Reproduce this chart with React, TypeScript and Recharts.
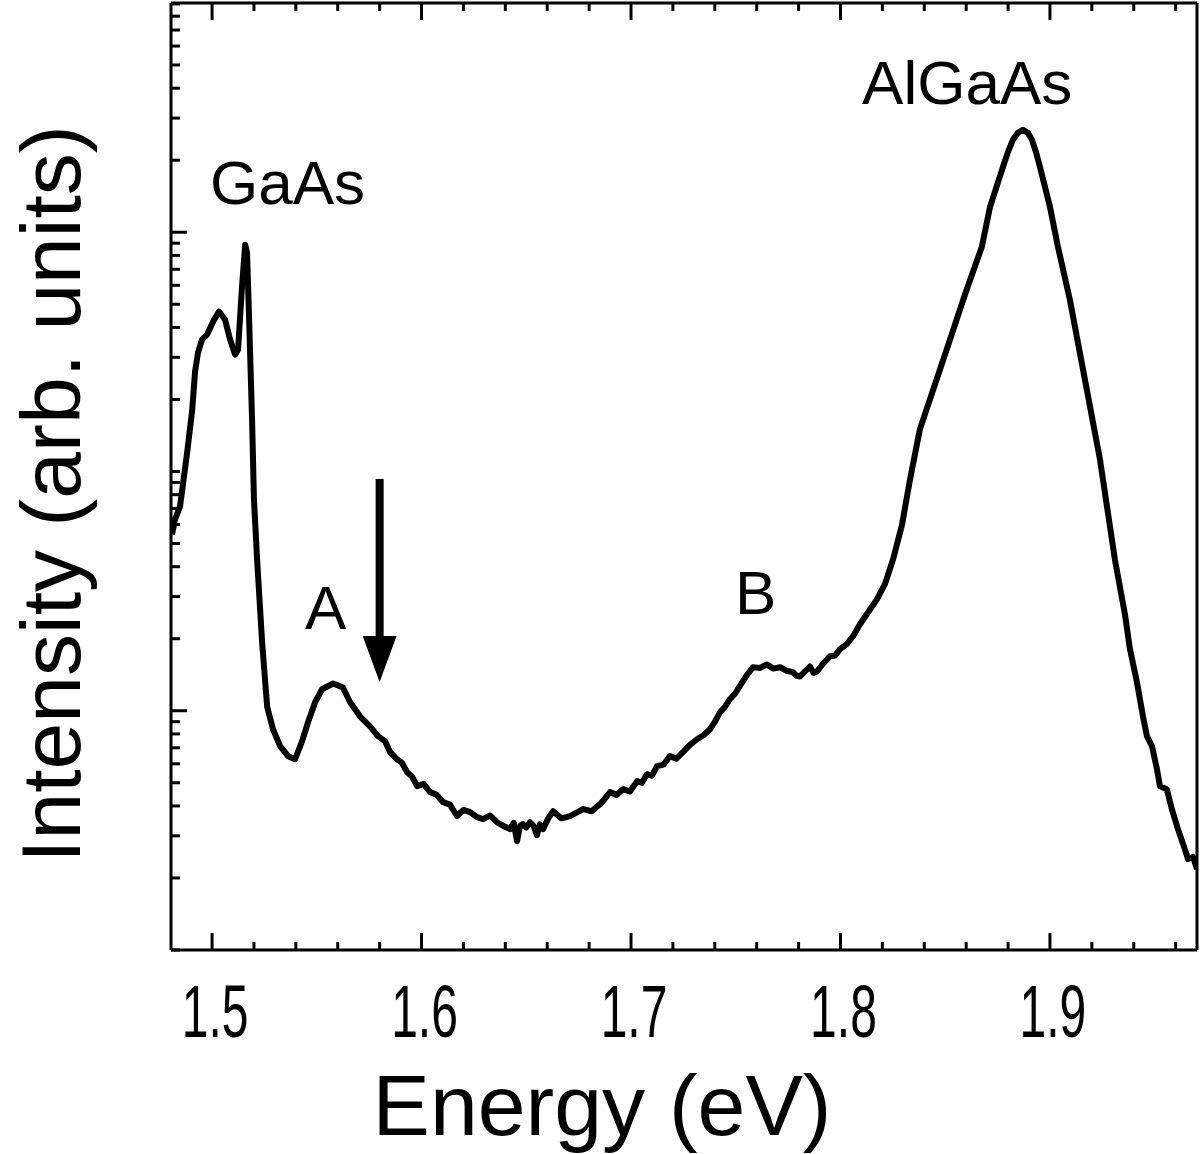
import React from 'react'
import { LineChart, Line, XAxis, YAxis, ReferenceDot, ReferenceLine } from 'recharts'

// photoluminescence spectrum (log intensity)
const energy = [
  1.4809, 1.4823, 1.4847, 1.4881, 1.4905, 1.4919, 1.4933, 1.4952, 1.4976, 1.5005,
  1.5033, 1.5062, 1.5086, 1.511, 1.5124, 1.5143, 1.5158, 1.5167, 1.5177, 1.5191,
  1.52, 1.5215, 1.5239, 1.5263, 1.5291, 1.5325, 1.5363, 1.5396, 1.543, 1.5458,
  1.5492, 1.5525, 1.5578, 1.5625, 1.5659, 1.5706, 1.5754, 1.5792, 1.5826, 1.585,
  1.5883, 1.5907, 1.5931, 1.5955, 1.5979, 1.601, 1.6041, 1.6072, 1.6103, 1.6136,
  1.6169, 1.62, 1.6232, 1.6263, 1.6294, 1.6327, 1.636, 1.6391, 1.6422, 1.644,
  1.6456, 1.647, 1.6484, 1.65, 1.6518, 1.6535, 1.6551, 1.6565, 1.658, 1.6605,
  1.6628, 1.6668, 1.6709, 1.674, 1.6771, 1.6812, 1.6852, 1.6876, 1.69, 1.6931,
  1.6962, 1.6995, 1.7029, 1.7052, 1.7076, 1.71, 1.7124, 1.7155, 1.7186, 1.7217,
  1.7248, 1.7281, 1.7315, 1.7346, 1.7377, 1.7401, 1.7425, 1.7449, 1.7473, 1.7497,
  1.752, 1.7551, 1.7582, 1.7615, 1.7649, 1.768, 1.7711, 1.7742, 1.7773, 1.779,
  1.7807, 1.783, 1.7854, 1.7871, 1.7888, 1.7919, 1.795, 1.7974, 1.7998, 1.803,
  1.806, 1.8093, 1.8141, 1.8174, 1.8212, 1.8251, 1.8294, 1.8332, 1.8379, 1.8451,
  1.8523, 1.8594, 1.8675, 1.8714, 1.8776, 1.88, 1.8823, 1.8847, 1.8871, 1.8895,
  1.8914, 1.8933, 1.8952, 1.9, 1.9038, 1.9095, 1.9167, 1.9239, 1.931, 1.9358,
  1.9382, 1.9415, 1.9444, 1.9463, 1.9487, 1.9511, 1.9525, 1.9558, 1.9582, 1.9611,
  1.9644, 1.9659, 1.9683, 1.9702,
]
const intensity = [
  54.6, 63.0, 71.4, 120, 180, 262, 314, 356, 373, 423,
  466, 431, 356, 308, 323, 592, 887, 821, 431, 165,
  76.4, 42.9, 19.3, 10.4, 8.37, 7.11, 6.46, 6.27, 7.46, 8.95,
  10.85, 12.3, 13.0, 12.5, 10.85, 9.48, 8.61, 7.83, 7.46, 6.71,
  6.27, 6.05, 5.54, 5.3, 4.84, 4.95, 4.57, 4.45, 4.15, 4.05,
  3.63, 3.85, 3.77, 3.6, 3.52, 3.65, 3.42, 3.3, 3.2, 3.4,
  2.85, 3.3, 3.36, 3.25, 3.42, 3.3, 3.02, 3.35, 3.2, 3.55,
  3.8, 3.55, 3.63, 3.75, 3.88, 3.8, 4.07, 4.3, 4.57, 4.45,
  4.7, 4.6, 5.08, 5.0, 5.43, 5.35, 5.87, 5.95, 6.46, 6.3,
  6.71, 7.2, 7.6, 7.9, 8.37, 9.0, 9.86, 10.4, 11.2, 11.8,
  12.7, 14.0, 15.2, 15.1, 15.6, 15.0, 15.2, 14.7, 14.5, 14.0,
  13.9, 14.6, 15.3, 14.4, 14.6, 15.8, 16.9, 17.0, 18.1, 19.0,
  20.5, 23.0, 26.5, 29.2, 33.8, 42.9, 60.1, 92.6, 150, 231,
  356, 548, 870, 1277, 1877, 2169, 2433, 2603, 2680, 2603,
  2433, 2169, 1877, 1277, 870, 523, 242, 112, 42.9, 25.3,
  18.1, 13.2, 9.48, 7.83, 7.11, 5.7, 4.84, 4.7, 3.88, 3.2,
  2.64, 2.4, 2.45, 2.18,
]

const xTicks = [
  1.5, 1.52, 1.54, 1.56, 1.58, 1.6, 1.62, 1.64, 1.66, 1.68, 1.7, 1.72, 1.74, 1.76,
  1.78, 1.8, 1.82, 1.84, 1.86, 1.88, 1.9, 1.92, 1.94, 1.96,
]
const xLabels = ['1.5', '1.6', '1.7', '1.8', '1.9']
const yTicks = [
  1, 2, 3, 4, 5, 6, 7, 8, 9, 10, 20, 30, 40, 50, 60, 70, 80, 90,
  100, 200, 300, 400, 500, 600, 700, 800, 900, 1000, 2000, 3000, 4000, 5000, 6000, 7000, 8000, 9000,
]
const yMajor = [10, 1000]

const peakLabels = [
  { text: 'GaAs', x: 1.499, y: 1315 },
  { text: 'AlGaAs', x: 1.8103, y: 3440 },
  { text: 'A', x: 1.5444, y: 21.9 },
  { text: 'B', x: 1.7496, y: 25.3 },
]
const arrow = { x: 1.58, top: 93, headStart: 20.3, tip: 13.2 }

const data = energy.map((e, i) => ({ e, v: intensity[i] }))
const font = 'Liberation Sans, Arial, sans-serif'
const xDomain = [1.4804, 1.9702]

const isMajorX = (v: number) => xLabels.some((l) => Math.abs(parseFloat(l) - v) < 1e-6)

const BottomTick = (props: any) => {
  const { x, y, payload } = props
  const major = isMajorX(payload.value)
  return (
    <g>
      <line x1={x} x2={x} y1={y} y2={y - (major ? 17 : 8)} stroke="#000" strokeWidth={3} />
      {major && (
        <text
          transform={`translate(${x + 3},${y + 87}) scale(0.64,1)`}
          textAnchor="middle"
          fontSize={75}
          fontFamily={font}
          fill="#000"
        >
          {payload.value.toFixed(1)}
        </text>
      )}
    </g>
  )
}

const TopTick = (props: any) => {
  const { x, y, payload } = props
  const major = isMajorX(payload.value)
  return <line x1={x} x2={x} y1={y} y2={y + (major ? 17 : 8)} stroke="#000" strokeWidth={3} />
}

const LeftTick = (props: any) => {
  const { x, y, payload } = props
  const major = yMajor.includes(payload.value)
  return <line x1={x} x2={x + (major ? 16 : 9)} y1={y} y2={y} stroke="#000" strokeWidth={3} />
}

const yLabel = () => (
  <text transform="translate(80,494) rotate(-90)" textAnchor="middle" fontSize={84} fontFamily={font} fill="#000">
    Intensity (arb. units)
  </text>
)

const xLabel = () => (
  <text x={602} y={1135} textAnchor="middle" fontSize={86} fontFamily={font} fill="#000">
    Energy (eV)
  </text>
)

export default function App() {
  return (
    <div style={{ position: 'absolute', left: 0, top: 0, background: '#fff' }}>
      <LineChart width={1200} height={1154} data={data} margin={{ top: 2, right: 2, bottom: 0, left: 0 }}>
        <XAxis
          xAxisId="b"
          dataKey="e"
          type="number"
          domain={xDomain}
          allowDataOverflow
          ticks={xTicks}
          interval={0}
          tickSize={0}
          tickMargin={0}
          tickLine={false}
          tick={BottomTick}
          height={204}
          axisLine={{ stroke: '#000', strokeWidth: 3 }}
          label={xLabel}
        />
        <XAxis
          xAxisId="t"
          dataKey="e"
          orientation="top"
          type="number"
          domain={xDomain}
          allowDataOverflow
          ticks={xTicks}
          interval={0}
          tickSize={0}
          tickMargin={0}
          tickLine={false}
          tick={TopTick}
          height={1}
          axisLine={{ stroke: '#000', strokeWidth: 3 }}
        />
        <YAxis
          yAxisId="l"
          type="number"
          scale="log"
          domain={[1, 9080]}
          allowDataOverflow
          ticks={yTicks}
          interval={0}
          tickSize={0}
          tickMargin={0}
          tickLine={false}
          tick={LeftTick}
          width={171}
          axisLine={{ stroke: '#000', strokeWidth: 3 }}
          label={yLabel}
        />
        <YAxis
          yAxisId="r"
          orientation="right"
          type="number"
          domain={[0, 1]}
          tick={false}
          tickLine={false}
          width={1}
          axisLine={{ stroke: '#000', strokeWidth: 3 }}
        />
        <Line
          xAxisId="t"
          yAxisId="l"
          dataKey="v"
          stroke="none"
          dot={false}
          legendType="none"
          isAnimationActive={false}
        />
        <Line
          xAxisId="b"
          yAxisId="l"
          dataKey="v"
          type="linear"
          stroke="#000"
          strokeWidth={6}
          strokeLinejoin="round"
          dot={false}
          isAnimationActive={false}
        />
        <ReferenceLine
          xAxisId="b"
          yAxisId="l"
          segment={[{ x: arrow.x, y: arrow.top }, { x: arrow.x, y: arrow.headStart }]}
          stroke="#000"
          strokeWidth={8}
        />
        <ReferenceDot
          xAxisId="b"
          yAxisId="l"
          x={arrow.x}
          y={arrow.tip}
          r={0}
          shape={(p: any) => (
            <polygon points={`${p.cx},${p.cy} ${p.cx - 17},${p.cy - 46} ${p.cx + 17},${p.cy - 46}`} fill="#000" />
          )}
        />
        {peakLabels.map((l) => (
          <ReferenceDot
            key={l.text}
            xAxisId="b"
            yAxisId="l"
            x={l.x}
            y={l.y}
            r={0}
            shape={(p: any) => (
              <text x={p.cx} y={p.cy} fontSize={62} fontFamily={font} fill="#000">
                {l.text}
              </text>
            )}
          />
        ))}
      </LineChart>
    </div>
  )
}
